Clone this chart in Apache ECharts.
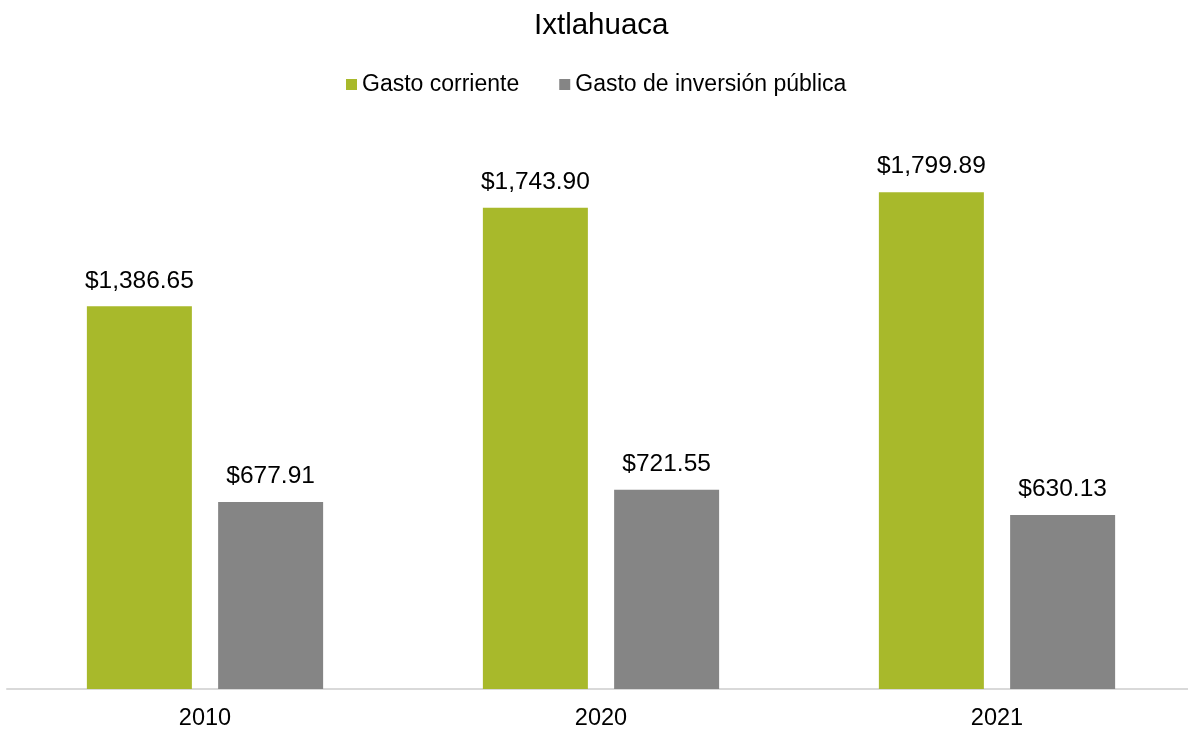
<!DOCTYPE html>
<html>
<head>
<meta charset="utf-8">
<script src="https://cdn.jsdelivr.net/npm/echarts@6/dist/echarts.min.js"></script>
<style>html,body{margin:0;padding:0;background:#fff;overflow:hidden}#c{width:1195px;height:731px}</style>
</head>
<body>
<div id="c"></div>
<script>
const categories = ['2010', '2020', '2021'];
const gastoCorriente = [1386.65, 1743.90, 1799.89];
const gastoInversion = [677.91, 721.55, 630.13];
const seriesNames = ['Gasto corriente', 'Gasto de inversión pública'];

const FONT = 'Liberation Sans, Arial, sans-serif';
const fmt = v => '$' + v.toLocaleString('en-US', {minimumFractionDigits: 2, maximumFractionDigits: 2});
const chart = echarts.init(document.getElementById('c'));
const labelCfg = {
  show: true, position: 'top', distance: 13,
  fontFamily: FONT, fontSize: 24.5, color: '#000',
  formatter: p => fmt(p.value)
};
chart.setOption({
  animation: false,
  title: {
    text: 'Ixtlahuaca', left: 529, top: 6,
    textStyle: {fontFamily: FONT, fontSize: 29.5, fontWeight: 'normal', color: '#000'}
  },
  legend: {
    top: 68, left: 341, itemWidth: 11, itemHeight: 11, itemGap: 40, icon: 'rect',
    textStyle: {fontFamily: FONT, fontSize: 23, color: '#000', padding: [0,0,0,0]},
    data: seriesNames
  },
  grid: {left: 7, right: 0, top: 137, bottom: 38, containLabel: false},
  xAxis: {
    type: 'category', data: categories,
    axisLine: {lineStyle: {color: '#d9d9d9', width: 2}},
    axisTick: {show: false},
    axisLabel: {fontFamily: FONT, fontSize: 23.5, color: '#000', margin: 18}
  },
  yAxis: {type: 'value', min: 0, max: 2000, show: false, splitLine: {show: false}},
  series: [
    {name: seriesNames[0], type: 'bar', data: gastoCorriente, barWidth: 105, barGap: '25%',
     itemStyle: {color: '#A8B92B'}, label: labelCfg},
    {name: seriesNames[1], type: 'bar', data: gastoInversion, barWidth: 105,
     itemStyle: {color: '#858585'}, label: labelCfg}
  ]
});
</script>
</body>
</html>
